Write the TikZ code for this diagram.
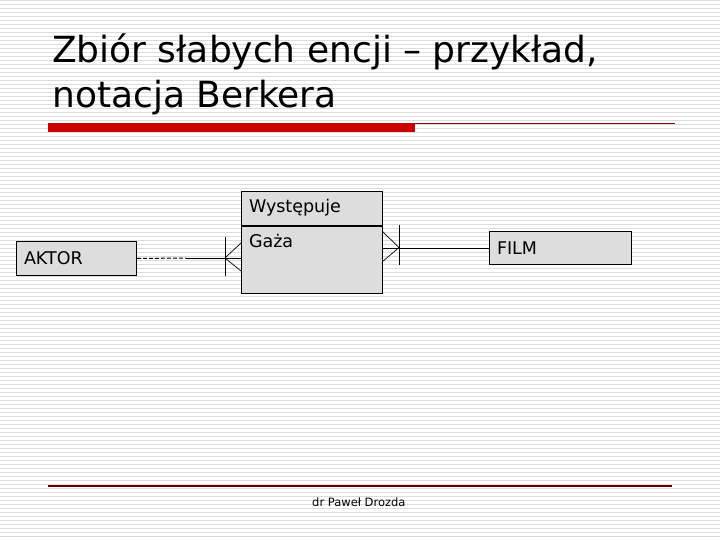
\documentclass[tikz,border=0pt]{standalone}
\usepackage{fontspec}
\setmainfont{DejaVu Sans}
\begin{document}
\begin{tikzpicture}[x=1pt,y=-1pt,
 entity/.style={draw,line width=1pt,fill=gray!27,font=\fontsize{17.5}{20}\selectfont,inner xsep=7.5pt,inner ysep=7pt,align=left},
 heading/.style={anchor=base west,inner sep=0,font=\fontsize{36}{45}\selectfont},
 stripe/.style={draw=gray!28,line width=1.3pt},
 crow/.style={line width=.7pt}]
 \useasboundingbox (0,0) rectangle (720,540);
 \fill[white] (0,0) rectangle (720,540);
 \foreach \y in {0.5,4.5,...,540} \draw[stripe] (0,\y)--(720,\y);
 % title
 \node[heading] (title) at (52,63) {Zbiór słabych encji – przykład,};
 \node[heading] (subtitle) at (52,108) {notacja Berkera};
 \fill[red!80!black] (48,123) rectangle (415,132);
 \draw[red!55!black,line width=1pt] (415,123.5)--(675,123.5);
 % entities
 \node[entity,anchor=north west,minimum width=120pt,minimum height=34pt,text width=105pt] (aktor) at (16,241) {AKTOR};
 \node[entity,anchor=north west,minimum width=142pt,minimum height=33pt,text width=127pt] (film) at (489,231) {FILM};
 \node[entity,anchor=north west,minimum width=141pt,text width=126pt,text height=14pt,text depth=6pt] (wyst) at (241,191) {Występuje};
 \node[entity,anchor=north,minimum width=141pt,text width=126pt,text height=14pt,text depth=39pt] (gaza) at (wyst.south) {Gaża};
 % AKTOR -- Wystepuje
 \coordinate (dA) at (186,258); \coordinate (cfA) at (225,258);
 \draw[line width=1pt,dash pattern=on 4pt off 2pt] (aktor.east)--(dA);
 \draw[line width=1pt] (dA)--(gaza.west|-dA);
 \draw[line width=1pt] (225,237)--(225,276);
 \draw[crow] (cfA)--(241,243) (cfA)--(241,271);
 % Wystepuje -- FILM
 \coordinate (cfF) at (399,247.5);
 \draw[line width=1pt] (gaza.east|-film.west)--(film.west);
 \draw[line width=1pt] (399,225)--(399,265);
 \draw[crow] (cfF)--(382,231) (cfF)--(382,262);
 % footer
 \draw[red!40!black,line width=1.2pt] (48,486)--(672,486);
 \node[anchor=base west,inner sep=0,font=\fontsize{11.5}{13}\selectfont] (autor) at (312,506) {dr Paweł Drozda};
\end{tikzpicture}
\end{document}
